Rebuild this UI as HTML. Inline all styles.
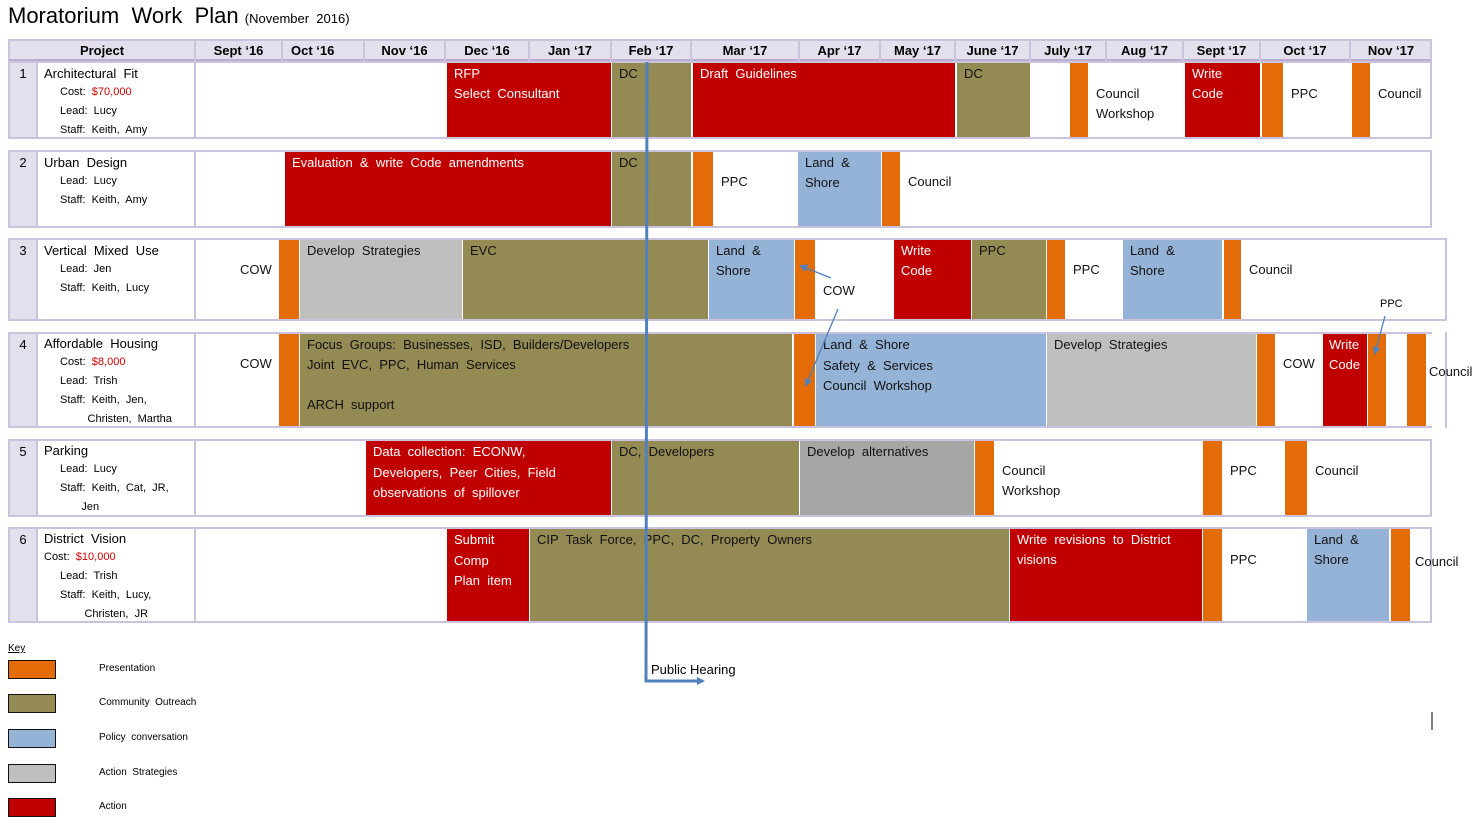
<!DOCTYPE html>
<html><head><meta charset="utf-8"><style>
body{margin:0;width:1478px;height:829px;background:#fff;position:relative;overflow:hidden;font-family:"Liberation Sans",Arial,sans-serif;}
div{position:absolute;box-sizing:border-box;}
.f{border:2px solid #cbc3dd;background:#fff;}
.c{font-size:13px;line-height:20px;padding:1px 0 0 7px;color:#111;white-space:nowrap;}
.r{background:#c00000;color:#fff;}
.o{background:#948a54;}
.b{background:#95b3d7;}
.g{background:#bfbfbf;}
.g2{background:#a6a6a6;}
.or{background:#e36c09;}
.n{background:#e4dfec;border-right:2px solid #cbc3dd;font-size:13px;text-align:center;padding-top:2px;line-height:18px;}
.lbl{font-size:13px;line-height:19px;padding:1px 0 0 6px;}
.s{font-size:11px;padding-left:16px;line-height:19px;}
.h{font-size:13px;font-weight:bold;text-align:center;line-height:20px;border-right:2px solid #cbc3dd;top:0;height:20px;}
.red{color:#d00000;}
.lg{left:8px;width:48px;height:19px;border:1px solid #111;}
.lt{left:99px;font-size:10px;}
</style></head><body>
<div style="left:8px;top:3px;font-size:22px;white-space:nowrap;">Moratorium&nbsp; Work&nbsp; Plan <span style="font-size:13px">(November&nbsp; 2016)</span></div>

<!-- header -->
<div style="left:8px;top:39px;width:1424px;height:23px;background:#e4dfec;border:2px solid #cbc3dd;border-bottom:3px solid #b9aed0;">
<div class="h" style="left:0;width:186px">Project</div>
<div class="h" style="left:186px;width:87px">Sept ‘16</div>
<div class="h" style="left:273px;width:82px;text-align:left;padding-left:8px">Oct ‘16</div>
<div class="h" style="left:355px;width:81px">Nov ‘16</div>
<div class="h" style="left:436px;width:84px">Dec ‘16</div>
<div class="h" style="left:520px;width:82px">Jan ‘17</div>
<div class="h" style="left:602px;width:80px">Feb ‘17</div>
<div class="h" style="left:682px;width:108px">Mar ‘17</div>
<div class="h" style="left:790px;width:81px">Apr ‘17</div>
<div class="h" style="left:871px;width:75px">May ‘17</div>
<div class="h" style="left:946px;width:75px">June ‘17</div>
<div class="h" style="left:1021px;width:76px">July ‘17</div>
<div class="h" style="left:1097px;width:77px">Aug ‘17</div>
<div class="h" style="left:1174px;width:77px">Sept ‘17</div>
<div class="h" style="left:1251px;width:90px">Oct ‘17</div>
<div class="h" style="left:1341px;width:80px;border:none">Nov ‘17</div>
</div>

<!-- Row 1 -->
<div class="f" style="left:8px;top:61px;width:1424px;height:78px;"></div>
<div class="n" style="left:10px;top:63px;width:28px;height:74px;">1</div>
<div class="lbl" style="left:38px;top:63px;width:158px;height:74px;border-right:2px solid #cbc3dd">Architectural&nbsp; Fit<div class="s" style="position:static">Cost:&nbsp; <span class="red">$70,000</span><br>Lead:&nbsp; Lucy<br>Staff:&nbsp; Keith,&nbsp; Amy</div></div>
<div class="c r" style="left:447px;top:63px;width:164px;height:74px">RFP<br>Select&nbsp; Consultant</div>
<div class="c o" style="left:612px;top:63px;width:79px;height:74px">DC</div>
<div class="c r" style="left:693px;top:63px;width:262px;height:74px">Draft&nbsp; Guidelines</div>
<div class="c o" style="left:957px;top:63px;width:73px;height:74px">DC</div>
<div class="or" style="left:1070px;top:63px;width:18px;height:74px"></div>
<div class="c" style="left:1089px;top:83px;">Council<br>Workshop</div>
<div class="c r" style="left:1185px;top:63px;width:75px;height:74px">Write<br>Code</div>
<div class="or" style="left:1262px;top:63px;width:21px;height:74px"></div>
<div class="c" style="left:1284px;top:83px;">PPC</div>
<div class="or" style="left:1352px;top:63px;width:18px;height:74px"></div>
<div class="c" style="left:1371px;top:83px;">Council</div>

<!-- Row 2 -->
<div class="f" style="left:8px;top:150px;width:1424px;height:78px;"></div>
<div class="n" style="left:10px;top:152px;width:28px;height:74px;">2</div>
<div class="lbl" style="left:38px;top:152px;width:158px;height:74px;border-right:2px solid #cbc3dd">Urban&nbsp; Design<div class="s" style="position:static">Lead:&nbsp; Lucy<br>Staff:&nbsp; Keith,&nbsp; Amy</div></div>
<div class="c r" style="left:285px;top:152px;width:326px;height:74px">Evaluation&nbsp; &amp;&nbsp; write&nbsp; Code&nbsp; amendments</div>
<div class="c o" style="left:612px;top:152px;width:79px;height:74px">DC</div>
<div class="or" style="left:693px;top:152px;width:20px;height:74px"></div>
<div class="c" style="left:714px;top:171px;">PPC</div>
<div class="c b" style="left:798px;top:152px;width:83px;height:74px">Land&nbsp; &amp;<br>Shore</div>
<div class="or" style="left:882px;top:152px;width:18px;height:74px"></div>
<div class="c" style="left:901px;top:171px;">Council</div>

<!-- Row 3 -->
<div class="f" style="left:8px;top:238px;width:1439px;height:83px;"></div>
<div class="n" style="left:10px;top:240px;width:28px;height:79px;">3</div>
<div class="lbl" style="left:38px;top:240px;width:158px;height:79px;border-right:2px solid #cbc3dd">Vertical&nbsp; Mixed&nbsp; Use<div class="s" style="position:static">Lead:&nbsp; Jen<br>Staff:&nbsp; Keith,&nbsp; Lucy</div></div>
<div class="c" style="left:233px;top:259px;">COW</div>
<div class="or" style="left:279px;top:240px;width:20px;height:79px"></div>
<div class="c g" style="left:300px;top:240px;width:162px;height:79px">Develop&nbsp; Strategies</div>
<div class="c o" style="left:463px;top:240px;width:245px;height:79px">EVC</div>
<div class="c b" style="left:709px;top:240px;width:85px;height:79px">Land&nbsp; &amp;<br>Shore</div>
<div class="or" style="left:795px;top:240px;width:20px;height:79px"></div>
<div class="c" style="left:816px;top:280px;">COW</div>
<div class="c r" style="left:894px;top:240px;width:77px;height:79px">Write<br>Code</div>
<div class="c o" style="left:972px;top:240px;width:74px;height:79px">PPC</div>
<div class="or" style="left:1047px;top:240px;width:18px;height:79px"></div>
<div class="c" style="left:1066px;top:259px;">PPC</div>
<div class="c b" style="left:1123px;top:240px;width:99px;height:79px">Land&nbsp; &amp;<br>Shore</div>
<div class="or" style="left:1224px;top:240px;width:17px;height:79px"></div>
<div class="c" style="left:1242px;top:259px;">Council</div>
<div style="left:1380px;top:298px;font-size:11px;">PPC</div>

<!-- Row 4 -->
<div style="left:8px;top:332px;width:1424px;height:96px;border-top:2px solid #cbc3dd;border-bottom:2px solid #cbc3dd;border-left:2px solid #cbc3dd;background:#fff"></div>
<div style="left:1445px;top:332px;width:2px;height:96px;background:#cbc3dd"></div>
<div class="n" style="left:10px;top:334px;width:28px;height:92px;">4</div>
<div class="lbl" style="left:38px;top:334px;width:158px;height:92px;border-right:2px solid #cbc3dd;line-height:18px">Affordable&nbsp; Housing<div class="s" style="position:static;line-height:19px">Cost:&nbsp; <span class="red">$8,000</span><br>Lead:&nbsp; Trish<br>Staff:&nbsp; Keith,&nbsp; Jen,<br>&nbsp;&nbsp;&nbsp;&nbsp;&nbsp;&nbsp;&nbsp;&nbsp; Christen,&nbsp; Martha</div></div>
<div class="c" style="left:233px;top:353px;">COW</div>
<div class="or" style="left:279px;top:334px;width:20px;height:92px"></div>
<div class="c o" style="left:300px;top:334px;width:492px;height:92px">Focus&nbsp; Groups:&nbsp; Businesses,&nbsp; ISD,&nbsp; Builders/Developers<br>Joint&nbsp; EVC,&nbsp; PPC,&nbsp; Human&nbsp; Services<br><br>ARCH&nbsp; support</div>
<div class="or" style="left:794px;top:334px;width:21px;height:92px"></div>
<div class="c b" style="left:816px;top:334px;width:230px;height:92px;line-height:20.5px">Land&nbsp; &amp;&nbsp; Shore<br>Safety&nbsp; &amp;&nbsp; Services<br>Council&nbsp; Workshop</div>
<div class="c g" style="left:1047px;top:334px;width:209px;height:92px">Develop&nbsp; Strategies</div>
<div class="or" style="left:1257px;top:334px;width:18px;height:92px"></div>
<div class="c" style="left:1276px;top:353px;">COW</div>
<div class="c r" style="left:1323px;top:334px;width:44px;height:92px;padding-left:6px">Write<br>Code</div>
<div class="or" style="left:1368px;top:334px;width:18px;height:92px"></div>
<div class="or" style="left:1407px;top:334px;width:19px;height:92px"></div>
<div class="c" style="left:1422px;top:361px;padding-left:7px">Council</div>

<!-- Row 5 -->
<div class="f" style="left:8px;top:439px;width:1424px;height:78px;"></div>
<div class="n" style="left:10px;top:441px;width:28px;height:74px;">5</div>
<div class="lbl" style="left:38px;top:441px;width:158px;height:74px;border-right:2px solid #cbc3dd;line-height:18px">Parking<div class="s" style="position:static;line-height:19px">Lead:&nbsp; Lucy<br>Staff:&nbsp; Keith,&nbsp; Cat,&nbsp; JR,<br>&nbsp;&nbsp;&nbsp;&nbsp;&nbsp;&nbsp; Jen</div></div>
<div class="c r" style="left:366px;top:441px;width:245px;height:74px;line-height:20.5px">Data&nbsp; collection:&nbsp; ECONW,<br>Developers,&nbsp; Peer&nbsp; Cities,&nbsp; Field<br>observations&nbsp; of&nbsp; spillover</div>
<div class="c o" style="left:612px;top:441px;width:187px;height:74px">DC,&nbsp; Developers</div>
<div class="c g2" style="left:800px;top:441px;width:174px;height:74px">Develop&nbsp; alternatives</div>
<div class="or" style="left:975px;top:441px;width:19px;height:74px"></div>
<div class="c" style="left:995px;top:460px;">Council<br>Workshop</div>
<div class="or" style="left:1203px;top:441px;width:19px;height:74px"></div>
<div class="c" style="left:1223px;top:460px;">PPC</div>
<div class="or" style="left:1285px;top:441px;width:22px;height:74px"></div>
<div class="c" style="left:1308px;top:460px;">Council</div>

<!-- Row 6 -->
<div class="f" style="left:8px;top:527px;width:1424px;height:96px;"></div>
<div class="n" style="left:10px;top:529px;width:28px;height:92px;">6</div>
<div class="lbl" style="left:38px;top:529px;width:158px;height:92px;border-right:2px solid #cbc3dd;line-height:18px">District&nbsp; Vision<div class="s" style="position:static;line-height:19px;padding-left:0">Cost:&nbsp; <span class="red">$10,000</span><div style="position:static;padding-left:16px">Lead:&nbsp; Trish<br>Staff:&nbsp; Keith,&nbsp; Lucy,<br>&nbsp;&nbsp;&nbsp;&nbsp;&nbsp;&nbsp;&nbsp; Christen,&nbsp; JR</div></div></div>
<div class="c r" style="left:447px;top:529px;width:82px;height:92px;line-height:20.5px">Submit<br>Comp<br>Plan&nbsp; item</div>
<div class="c o" style="left:530px;top:529px;width:479px;height:92px">CIP&nbsp; Task&nbsp; Force,&nbsp; PPC,&nbsp; DC,&nbsp; Property&nbsp; Owners</div>
<div class="c r" style="left:1010px;top:529px;width:192px;height:92px">Write&nbsp; revisions&nbsp; to&nbsp; District<br>visions</div>
<div class="or" style="left:1203px;top:529px;width:19px;height:92px"></div>
<div class="c" style="left:1223px;top:549px;">PPC</div>
<div class="c b" style="left:1307px;top:529px;width:82px;height:92px">Land&nbsp; &amp;<br>Shore</div>
<div class="or" style="left:1391px;top:529px;width:19px;height:92px"></div>
<div class="c" style="left:1408px;top:551px;">Council</div>

<!-- lines / arrows -->
<svg style="position:absolute;left:0;top:0" width="1478" height="829">
<defs><marker id="a" markerWidth="8" markerHeight="8" refX="6" refY="4" orient="auto" markerUnits="userSpaceOnUse"><path d="M0,0 L8,4 L0,8 z" fill="#4f81bd"/></marker></defs>
<polyline points="647,62 646,681 703,681" fill="none" stroke="#4f81bd" stroke-width="3" marker-end="url(#a)"/>
<line x1="831" y1="278" x2="801" y2="266" stroke="#4f81bd" stroke-width="1.3" marker-end="url(#a)"/>
<line x1="838" y1="309" x2="806" y2="385" stroke="#4f81bd" stroke-width="1.3" marker-end="url(#a)"/>
<line x1="1385" y1="316" x2="1375" y2="353" stroke="#4f81bd" stroke-width="1.3" marker-end="url(#a)"/>
<line x1="1432" y1="712" x2="1432" y2="730" stroke="#000" stroke-width="1"/>
</svg>
<div style="left:651px;top:662px;font-size:13px;">Public Hearing</div>

<!-- key -->
<div style="left:8px;top:643px;font-size:10px;text-decoration:underline">Key</div>
<div class="lg or" style="top:660px"></div><div class="lt" style="top:663px">Presentation</div>
<div class="lg o" style="top:694px"></div><div class="lt" style="top:697px">Community&nbsp; Outreach</div>
<div class="lg b" style="top:729px"></div><div class="lt" style="top:732px">Policy&nbsp; conversation</div>
<div class="lg g" style="top:764px"></div><div class="lt" style="top:767px">Action&nbsp; Strategies</div>
<div class="lg r" style="top:798px"></div><div class="lt" style="top:801px">Action</div>
</body></html>
